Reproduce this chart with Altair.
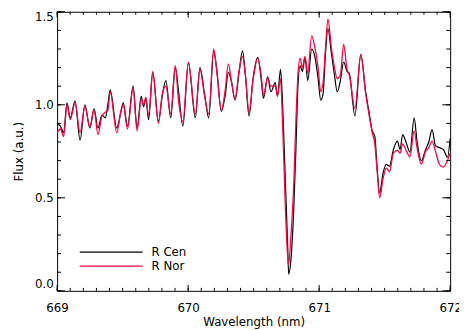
import altair as alt
import pandas as pd

wavelength = [669.000, 669.025, 669.050, 669.075, 669.100, 669.137, 669.175, 669.212, 669.250, 669.282,
              669.312, 669.342, 669.368, 669.387, 669.405, 669.455, 669.488, 669.505, 669.537, 669.580,
              669.610, 669.642, 669.660, 669.677, 669.698, 669.730, 669.773, 669.803, 669.830, 669.867,
              669.902, 669.927, 669.960, 670.002, 670.055, 670.090, 670.127, 670.157, 670.195, 670.220,
              670.253, 670.283, 670.307, 670.332, 670.358, 670.388, 670.415, 670.437, 670.465, 670.495,
              670.532, 670.557, 670.575, 670.607, 670.632, 670.665, 670.682, 670.705, 670.720, 670.742,
              670.760, 670.767, 670.785, 670.805, 670.823, 670.838, 670.855, 670.872, 670.892, 670.913,
              670.943, 670.967, 670.992, 671.012, 671.030, 671.048, 671.067, 671.093, 671.117, 671.138,
              671.162, 671.187, 671.213, 671.230, 671.273, 671.318, 671.355, 671.380, 671.405, 671.425,
              671.442, 671.462, 671.487, 671.513, 671.537, 671.567, 671.597, 671.618, 671.637, 671.663,
              671.693, 671.725, 671.747, 671.780, 671.813, 671.837, 671.862, 671.888, 671.918, 671.948,
              671.980, 672.000]

flux_rcen = [0.90, 0.885, 0.85, 1.01, 0.93, 1.02, 0.81, 1.00, 0.875, 0.98,
             0.875, 0.945, 0.93, 1.00, 1.08, 0.875, 0.965, 1.01, 0.885, 1.10,
             0.875, 1.045, 0.99, 1.035, 0.92, 1.175, 0.91, 1.05, 1.13, 0.93,
             1.20, 1.07, 0.885, 1.225, 0.93, 1.20, 1.05, 0.93, 1.29, 1.18,
             0.965, 1.05, 1.175, 1.12, 1.025, 1.17, 1.29, 1.16, 0.94, 1.14,
             1.255, 1.14, 1.035, 1.15, 1.07, 1.12, 1.045, 1.19, 1.02, 0.59,
             0.24, 0.09, 0.17, 0.42, 0.77, 1.10, 1.21, 1.18, 1.255, 1.13,
             1.30, 1.26, 1.14, 1.025, 1.06, 1.27, 1.41, 1.28, 1.16, 1.07,
             1.13, 1.23, 1.18, 1.17, 0.94, 1.27, 1.07, 0.965, 0.86, 0.83,
             0.665, 0.525, 0.63, 0.68, 0.67, 0.76, 0.805, 0.76, 0.84, 0.80,
             0.745, 0.93, 0.805, 0.70, 0.76, 0.80, 0.867, 0.78, 0.77, 0.76,
             0.718, 0.82]

flux_rnor = [0.85, 0.87, 0.83, 1.00, 0.92, 1.01, 0.85, 0.99, 0.88, 0.97,
             0.84, 0.94, 0.96, 0.97, 1.07, 0.85, 0.97, 1.00, 0.87, 1.09,
             0.86, 1.03, 1.00, 1.04, 0.94, 1.18, 0.90, 1.06, 1.10, 0.95,
             1.21, 1.02, 0.91, 1.23, 0.95, 1.19, 1.04, 0.95, 1.30, 1.17,
             0.97, 1.08, 1.22, 1.12, 1.03, 1.18, 1.26, 1.16, 0.96, 1.13,
             1.25, 1.16, 1.05, 1.14, 1.10, 1.10, 1.05, 1.14, 0.92, 0.45,
             0.18, 0.14, 0.30, 0.55, 0.92, 1.16, 1.25, 1.20, 1.26, 1.17,
             1.37, 1.31, 1.20, 1.07, 1.12, 1.30, 1.46, 1.31, 1.20, 1.14,
             1.16, 1.325, 1.19, 1.16, 0.98, 1.27, 1.06, 0.95, 0.85, 0.79,
             0.65, 0.50, 0.60, 0.66, 0.64, 0.74, 0.755, 0.74, 0.79, 0.755,
             0.72, 0.86, 0.77, 0.68, 0.75, 0.77, 0.805, 0.75, 0.68, 0.665,
             0.70, 0.74]

series_names = ["R Cen", "R Nor"]
series_colors = ["#000000", "#ff0040"]

x_major = [669, 670, 671, 672]
x_minor = [round(669 + 0.1 * i, 1) for i in range(31)]
y_major = [0.0, 0.5, 1.0, 1.5]
y_minor = [round(0.1 * i, 1) for i in range(16)]

W, H = 400, 284
FONT = "DejaVu Sans"
X_MAJ, X_MIN = 6, 3
Y_MAJ, Y_MIN = 8, 4
TICK_COLOR = "#000000"

df = pd.DataFrame({"wl": wavelength, "cen": flux_rcen, "nor": flux_rnor})
xs = alt.Scale(domain=[669, 672], nice=False, zero=False)
ys = alt.Scale(domain=[0, 1.5], nice=False, zero=False)

x_axis = alt.Axis(values=x_major, orient="bottom", ticks=False, domain=False, grid=False,
                  format="d", labelFlush=False, labelPadding=12,
                  title="Wavelength (nm)", titlePadding=3)
y_axis = alt.Axis(values=y_major, orient="left", ticks=False, domain=False, grid=False,
                  format=".1f", labelPadding=4, labelFlush=True,
                  title="Flux (a.u.)", titlePadding=9)

base = alt.Chart(df)

line_cen = base.mark_line(color=series_colors[0], strokeWidth=1.2, interpolate="monotone").encode(
    x=alt.X("wl:Q", scale=xs, axis=x_axis),
    y=alt.Y("cen:Q", scale=ys, axis=y_axis),
)

line_nor = base.mark_line(color=series_colors[1], strokeWidth=1.3, interpolate="monotone").encode(
    x=alt.X("wl:Q", scale=xs, axis=x_axis),
    y=alt.Y("nor:Q", scale=ys, axis=y_axis),
)

# inward ticks on all four sides
tick_layers = []
for vals, size in [(x_minor, X_MIN), (x_major, X_MAJ)]:
    tdf = pd.DataFrame({"v": vals})
    tick_layers.append(alt.Chart(tdf).mark_rule(color=TICK_COLOR, strokeWidth=1).encode(
        x=alt.X("v:Q", scale=xs, axis=x_axis), y=alt.value(H), y2=alt.value(H - size)))
    tick_layers.append(alt.Chart(tdf).mark_rule(color=TICK_COLOR, strokeWidth=1).encode(
        x=alt.X("v:Q", scale=xs, axis=x_axis), y=alt.value(0), y2=alt.value(size)))
for vals, size in [(y_minor, Y_MIN), (y_major, Y_MAJ)]:
    tdf = pd.DataFrame({"v": vals})
    tick_layers.append(alt.Chart(tdf).mark_rule(color=TICK_COLOR, strokeWidth=1).encode(
        y=alt.Y("v:Q", scale=ys, axis=y_axis), x=alt.value(0), x2=alt.value(size)))
    tick_layers.append(alt.Chart(tdf).mark_rule(color=TICK_COLOR, strokeWidth=1).encode(
        y=alt.Y("v:Q", scale=ys, axis=y_axis), x=alt.value(W), x2=alt.value(W - size)))

legend_layers = []
for name, color, ypix in zip(series_names, series_colors, [244.5, 258.8]):
    ldf = pd.DataFrame({"label": [name]})
    legend_layers.append(
        alt.Chart(ldf).mark_rule(color=color, strokeWidth=1.3).encode(
            x=alt.value(23), x2=alt.value(87), y=alt.value(ypix)))
    legend_layers.append(
        alt.Chart(ldf).mark_text(align="left", baseline="middle", font=FONT, fontSize=12,
                                 color="black").encode(
            x=alt.value(96), y=alt.value(ypix), text="label:N"))

chart = alt.layer(line_cen, line_nor, *tick_layers, *legend_layers).properties(
    width=W, height=H, autosize="none",
    padding={"left": 50, "top": 1, "right": 9, "bottom": 37},
).configure_view(
    stroke="black", strokeWidth=1
).configure_axis(
    labelFont=FONT, titleFont=FONT, labelFontSize=12, titleFontSize=12,
    labelColor="black", titleColor="black", titleFontWeight="normal",
)

chart.save("out.html", embed_options={"renderer": "svg", "actions": False})
